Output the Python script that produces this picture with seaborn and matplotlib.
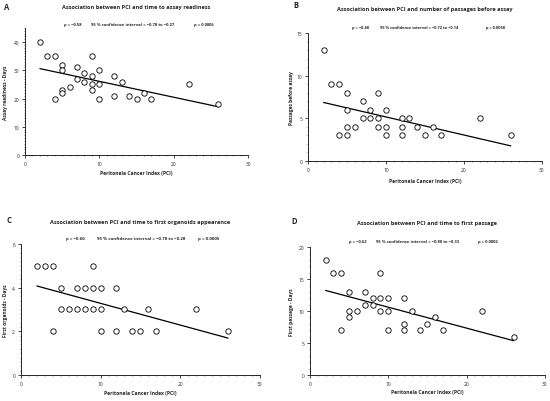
import numpy as np
import pandas as pd
import matplotlib
matplotlib.use('Agg')
import matplotlib.pyplot as plt
from matplotlib.ticker import MultipleLocator
import seaborn as sns

# Panel A - time to assay readiness
pci_a = [2, 3, 4, 4, 5, 5, 5, 5, 6, 7, 7, 8, 8, 9, 9, 9, 9, 10, 10, 10, 12, 12, 13, 14, 15, 16, 17, 22, 26]
days_a = [40, 35, 35, 20, 32, 30, 23, 22, 24, 31, 27, 29, 26, 35, 28, 25, 23, 30, 25, 20, 28, 21, 26, 21, 20, 22, 20, 25, 18]

# Panel B - passages before assay
pci_b = [2, 3, 4, 4, 5, 5, 5, 5, 6, 7, 7, 8, 8, 9, 9, 9, 10, 10, 10, 12, 12, 12, 13, 14, 15, 16, 17, 22, 26]
passages_b = [13, 9, 9, 3, 8, 6, 4, 3, 4, 7, 5, 6, 5, 8, 5, 4, 6, 4, 3, 5, 4, 3, 5, 4, 3, 4, 3, 5, 3]

# Panel C - time to first organoids
pci_c = [2, 3, 4, 9, 5, 7, 8, 9, 10, 12, 5, 6, 7, 8, 9, 10, 13, 16, 22, 4, 10, 12, 14, 15, 17, 26]
days_c = [5, 5, 5, 5, 4, 4, 4, 4, 4, 4, 3, 3, 3, 3, 3, 3, 3, 3, 3, 2, 2, 2, 2, 2, 2, 2]

# Panel D - time to first passage
pci_d = [2, 3, 4, 4, 5, 5, 5, 6, 7, 7, 8, 8, 9, 9, 9, 10, 10, 10, 12, 12, 12, 13, 14, 15, 16, 17, 22, 26]
days_d = [18, 16, 16, 7, 13, 10, 9, 10, 13, 11, 12, 11, 16, 12, 10, 12, 10, 7, 12, 8, 7, 10, 7, 8, 9, 7, 10, 6]

titles = ['Association between PCI and time to assay readiness',
          'Association between PCI and number of passages before assay',
          'Association between PCI and time to first organoids appearance',
          'Association between PCI and time to first passage']
ylabels = ['Assay readiness - Days', 'Passages before assay',
           'First organoids - Days', 'First passage - Days']
rhos = ['\u03c1 = \u22120.58', '\u03c1 = \u22120.48', '\u03c1 = \u22120.60', '\u03c1 = \u22120.62']
cis = ['95 % confidence interval = \u22120.78 to \u22120.27',
       '95 % confidence interval = \u22120.72 to \u22120.14',
       '95 % confidence interval = \u22120.78 to \u22120.28',
       '95 % confidence interval = \u22120.80 to \u22120.33']
pvals = ['p = 0.0006', 'p = 0.0058', 'p = 0.0005', 'p = 0.0002']
letters = ['A', 'B', 'C', 'D']

sns.set_style('ticks')
plt.rcParams['font.family'] = ['Open Sans', 'DejaVu Sans']

fig = plt.figure(figsize=(5.5, 4.02), dpi=100)

boxes = [[0.0455, 0.612, 0.4055, 0.316],
         [0.560, 0.597, 0.4255, 0.318],
         [0.038, 0.0647, 0.4345, 0.326],
         [0.5636, 0.0647, 0.427, 0.318]]
ylims = [45, 15, 6, 20]
ymajor = [10, 5, 2, 5]
yminor = [1, 1, 0.2, 1]
title_y = [1.165, 1.195, 1.168, 1.195]
annot_y = [1.03, 1.05, 1.046, 1.05]
annot_fs = [2.95, 2.85, 3.2, 2.95]
rho_x = [0.215, 0.226, 0.23, 0.204]
ci_x = [0.484, 0.474, 0.505, 0.46]
p_x = [0.80, 0.803, 0.785, 0.757]
letter_pos = [(7, 7), (296, 6), (9, 221), (294, 222)]
ylabel_x = [6, 291, 6, 291]
xlabel_y = [174, 182, 394, 393]

data = [(pci_a, days_a), (pci_b, passages_b), (pci_c, days_c), (pci_d, days_d)]

for i, (xs, ys) in enumerate(data):
    ax = fig.add_axes(boxes[i])
    df = pd.DataFrame({'PCI': xs, 'value': ys})
    sns.regplot(data=df, x='PCI', y='value', ax=ax, ci=None, truncate=True,
                scatter_kws={'s': 15, 'facecolors': 'white', 'edgecolors': 'black',
                             'linewidths': 0.6, 'alpha': 1, 'zorder': 3},
                line_kws={'color': 'black', 'lw': 0.9})
    ax.set_xlim(0, 30)
    ax.set_ylim(0, ylims[i])
    ax.xaxis.set_major_locator(MultipleLocator(10))
    ax.xaxis.set_minor_locator(MultipleLocator(1))
    ax.yaxis.set_major_locator(MultipleLocator(ymajor[i]))
    ax.yaxis.set_minor_locator(MultipleLocator(yminor[i]))
    ax.tick_params(which='major', length=2.2, width=0.6, labelsize=3.5, pad=2)
    ax.tick_params(which='minor', length=1.0, width=0.4)
    for s in ['top', 'right']:
        ax.spines[s].set_visible(False)
    for s in ['left', 'bottom']:
        ax.spines[s].set_linewidth(0.7)
    ax.set_xlabel('')
    ax.set_ylabel('')
    ax.set_title('')
    ax.text(0.5, title_y[i], titles[i], transform=ax.transAxes, ha='center',
            va='center', fontsize=4.1, fontweight='bold')
    for txt, px in [(rhos[i], rho_x[i]), (cis[i], ci_x[i]), (pvals[i], p_x[i])]:
        ax.text(px, annot_y[i], txt, transform=ax.transAxes, ha='center',
                va='center', fontsize=annot_fs[i], fontweight='bold')
    # axis labels placed in figure pixels
    bx = boxes[i]
    fig.text(bx[0] + bx[2] / 2, 1 - xlabel_y[i] / 402, 'Peritonela Cancer Index (PCI)',
             ha='center', va='center', fontsize=3.65, fontweight='bold')
    fig.text(ylabel_x[i] / 550, bx[1] + bx[3] / 2, ylabels[i], rotation=90,
             ha='center', va='center', fontsize=3.5, fontweight='bold')
    lx, ly = letter_pos[i]
    fig.text(lx / 550, 1 - ly / 402, letters[i], ha='center', va='center',
             fontsize=5.5, fontweight='bold')

fig.savefig('out.png', dpi=100)
